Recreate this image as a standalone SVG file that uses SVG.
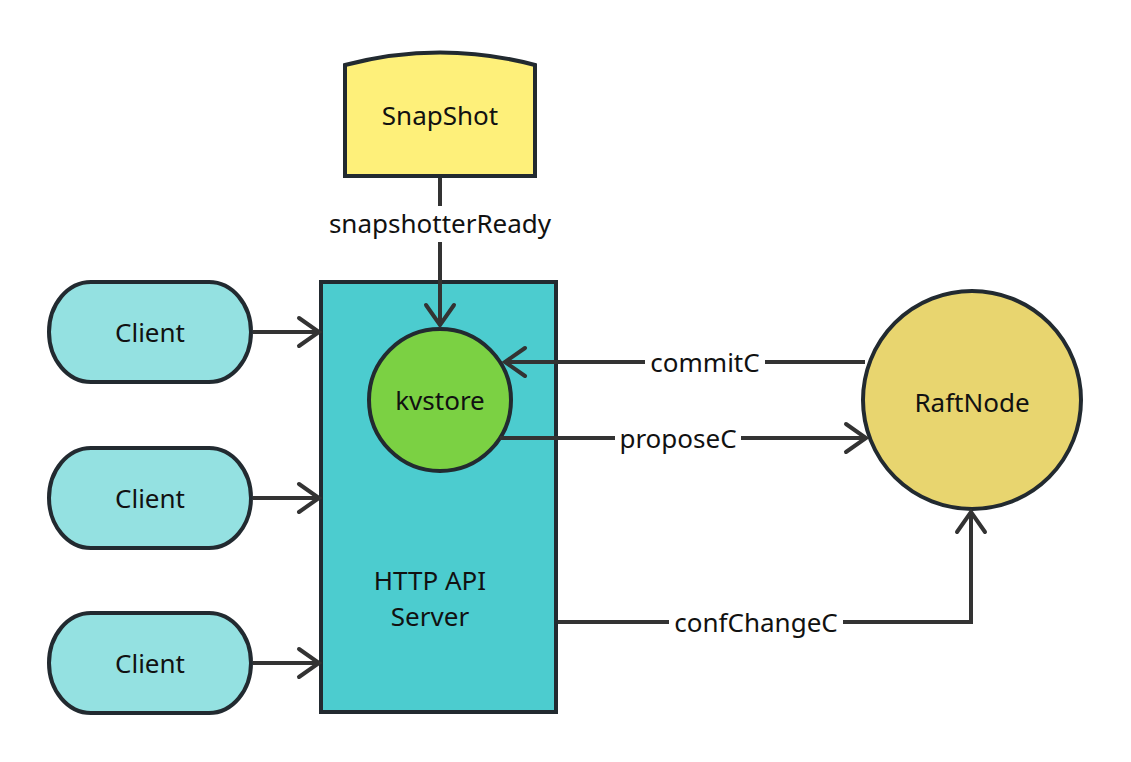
<svg xmlns="http://www.w3.org/2000/svg" width="1131" height="762" viewBox="0 0 1131 762">
<defs>
<marker id="arr" markerUnits="userSpaceOnUse" markerWidth="30" markerHeight="34" viewBox="0 0 30 34" refX="26" refY="17" orient="auto">
<path d="M6,3 L26,17 L6,31" fill="none" stroke="#333333" stroke-width="4" stroke-linecap="round" stroke-linejoin="miter"/>
</marker>
</defs>
<style>
.node{stroke:#222a30;stroke-width:4}
.lbl{font-family:"Noto Sans","Open Sans",sans-serif;font-size:26px;text-anchor:middle;dominant-baseline:central;fill:#111}
.edge{fill:none;stroke:#333333;stroke-width:4}
.bg{fill:#ffffff}
</style>
<rect width="1131" height="762" fill="#ffffff"/>
<g id="snapshot">
<path class="node" d="M345,65 Q440,40 535,65 L535,176 L345,176 Z" fill="#fef07a"/>
<text class="lbl" x="440" y="115">SnapShot</text>
</g>
<g id="server">
<rect class="node" x="321" y="282" width="235" height="430" fill="#4ccccf"/>
<text class="lbl" x="430" y="580" font-size="25">HTTP API</text>
<text class="lbl" x="430" y="616" font-size="25">Server</text>
</g>
<g id="client1">
<rect class="node" x="49" y="282" width="202" height="100" rx="42" ry="50" fill="#94e1e1"/>
<text class="lbl" x="150" y="332" fill="#333">Client</text>
</g>
<g id="client2">
<rect class="node" x="49" y="448" width="202" height="100" rx="42" ry="50" fill="#94e1e1"/>
<text class="lbl" x="150" y="498" fill="#333">Client</text>
</g>
<g id="client3">
<rect class="node" x="49" y="613" width="202" height="100" rx="42" ry="50" fill="#94e1e1"/>
<text class="lbl" x="150" y="663" fill="#333">Client</text>
</g>
<g id="kvstore">
<circle class="node" cx="440" cy="400" r="71" fill="#7bd143"/>
<text class="lbl" x="440" y="400">kvstore</text>
</g>
<g id="raftnode">
<circle class="node" cx="972" cy="400" r="109" fill="#e8d56f"/>
<text class="lbl" x="972" y="402">RaftNode</text>
</g>
<g id="connectors">
<path class="edge" d="M440,178 L440,325" marker-end="url(#arr)"/>
<rect class="bg" x="326" y="206" width="228" height="36"/>
<text class="lbl" x="440" y="223">snapshotterReady</text>
<path class="edge" d="M253,332 L319,332" marker-end="url(#arr)"/>
<path class="edge" d="M253,498 L319,498" marker-end="url(#arr)"/>
<path class="edge" d="M253,663 L319,663" marker-end="url(#arr)"/>
<path class="edge" d="M865,362 L505,362" marker-end="url(#arr)"/>
<rect class="bg" x="645" y="348" width="120" height="28"/>
<text class="lbl" x="705" y="362">commitC</text>
<path class="edge" d="M500,438 L866,438" marker-end="url(#arr)"/>
<rect class="bg" x="615" y="424" width="126" height="28"/>
<text class="lbl" x="678" y="438">proposeC</text>
<path class="edge" d="M558,622 L971,622 L971,512" marker-end="url(#arr)"/>
<rect class="bg" x="669" y="608" width="174" height="28"/>
<text class="lbl" x="756" y="622">confChangeC</text>
</g>
</svg>
